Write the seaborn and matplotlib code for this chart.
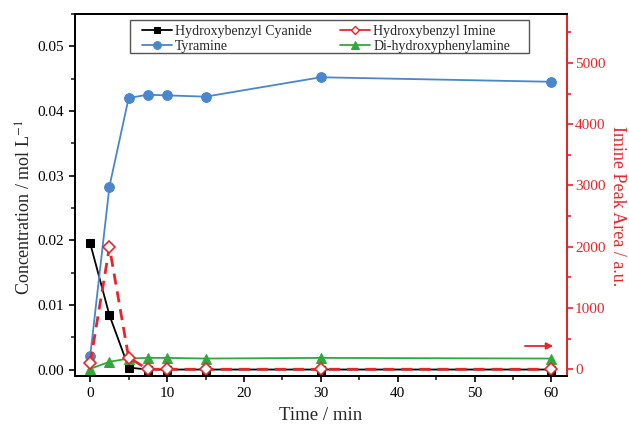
import matplotlib
matplotlib.use("Agg")
import matplotlib.pyplot as plt
import seaborn as sns
import pandas as pd
from matplotlib.ticker import MultipleLocator
from matplotlib.patches import Rectangle
from matplotlib.lines import Line2D

time = [0, 2.5, 5, 7.5, 10, 15, 30, 60]
cyanide = [0.0195, 0.0084, 0.0003, 0.0, 0.0, 0.0, 0.0, 0.0]
tyramine = [0.0021, 0.0283, 0.0420, 0.0425, 0.0424, 0.0422, 0.0452, 0.0445]
dihydroxy = [0.0001, 0.0012, 0.0017, 0.0018, 0.0018, 0.0017, 0.0018, 0.0017]
imine = [103, 1995, 190, 0, 0, 0, 0, 0]

sns.set_theme(style="ticks")
plt.rcParams['font.family'] = ['Liberation Serif', 'DejaVu Serif']
plt.rcParams['mathtext.fontset'] = 'stix'

df = pd.DataFrame({"time": time, "cyanide": cyanide, "tyramine": tyramine,
                   "dihydroxy": dihydroxy, "imine": imine})

fig = plt.figure(figsize=(6.29, 4.25), dpi=100)
ax = fig.add_axes([0.119, 0.1153, 0.782, 0.852])
ax2 = ax.twinx()

sns.lineplot(data=df, x="time", y="cyanide", ax=ax, color="black", marker="s",
             markersize=6, markeredgecolor="black", linewidth=1.3,
             label="Hydroxybenzyl Cyanide", legend=False)
sns.lineplot(data=df, x="time", y="tyramine", ax=ax, color="#4a86cc", marker="o",
             markersize=7, markeredgecolor="#4a86cc", linewidth=1.3,
             label="Tyramine", legend=False)
sns.lineplot(data=df, x="time", y="dihydroxy", ax=ax, color="#2eaa3a", marker="^",
             markersize=7, markeredgecolor="#2eaa3a", linewidth=1.3,
             label="Di-hydroxyphenylamine", legend=False)
sns.lineplot(data=df, x="time", y="imine", ax=ax2, color="#e8262a", marker="D",
             markersize=6.5, markerfacecolor="white", markeredgecolor="#e8262a",
             markeredgewidth=1.2, linewidth=2.0, dashes=False,
             label="Hydroxybenzyl Imine", legend=False)
ax2.lines[0].set_linestyle((0, (4, 2.5)))

ax.set_xlim(-2, 62)
ax.set_ylim(-0.001, 0.055)
ax2.set_ylim(-110, 5800)

ax.xaxis.set_major_locator(MultipleLocator(10))
ax.xaxis.set_minor_locator(MultipleLocator(5))
ax.yaxis.set_major_locator(MultipleLocator(0.01))
ax.yaxis.set_minor_locator(MultipleLocator(0.005))
ax2.yaxis.set_major_locator(MultipleLocator(1000))
ax2.yaxis.set_minor_locator(MultipleLocator(500))
ax.yaxis.set_major_formatter(matplotlib.ticker.FormatStrFormatter('%.2f'))

ax.set_xlabel("Time / min", fontsize=13.5, labelpad=5)
ax.set_ylabel("Concentration / mol L$^{-1}$", fontsize=13, labelpad=2)
ax.yaxis.label.set_y(0.465)
ax2.set_ylabel("Imine Peak Area / a.u.", fontsize=13, color="#e8262a",
               rotation=270, labelpad=15)
ax2.yaxis.label.set_y(0.47)

for a in (ax, ax2):
    for s in a.spines.values():
        s.set_linewidth(1.4)
        s.set_color("black")
ax2.spines["right"].set_color("#e8262a")
ax.tick_params(axis="both", which="major", direction="out", length=4.5, width=1.2,
               labelsize=11, colors="black")
ax.tick_params(axis="both", which="minor", direction="out", length=3, width=1.2)
ax2.tick_params(axis="y", which="major", direction="out", length=4.5, width=1.2,
                labelsize=11, colors="#e8262a", pad=1.5)
ax2.tick_params(axis="y", which="minor", direction="out", length=3, width=1.2,
                colors="#e8262a")

ax2.annotate("", xy=(60.6, 380), xytext=(56.2, 380),
             arrowprops=dict(arrowstyle="-|>", color="#e8262a", lw=1.3,
                             mutation_scale=10))

# legend frame (Origin-style box with extra right padding)
ax2.add_patch(Rectangle((0.1119, 0.8923), 0.8114, 0.0911, transform=ax.transAxes,
                        facecolor="white", edgecolor="#555555", linewidth=1.0,
                        zorder=5))

imine_handle = Line2D([], [], color="#e8262a", linewidth=1.3, marker="D",
                      markersize=5.2, markerfacecolor="white",
                      markeredgecolor="#e8262a", markeredgewidth=1.0)
handles = [ax.lines[0], ax.lines[1], imine_handle, ax.lines[2]]
labels = ["Hydroxybenzyl Cyanide", "Tyramine", "Hydroxybenzyl Imine",
          "Di-hydroxyphenylamine"]
leg = ax2.legend(handles, labels, ncol=2, loc="upper left",
                 bbox_to_anchor=(0.1363, 0.9700), fontsize=10, frameon=False,
                 handlelength=2.2, handletextpad=0.2, columnspacing=2.0,
                 borderpad=0, labelspacing=0.15, borderaxespad=0,
                 markerscale=0.8)
leg.set_zorder(6)

fig.savefig("out.png", dpi=100)
